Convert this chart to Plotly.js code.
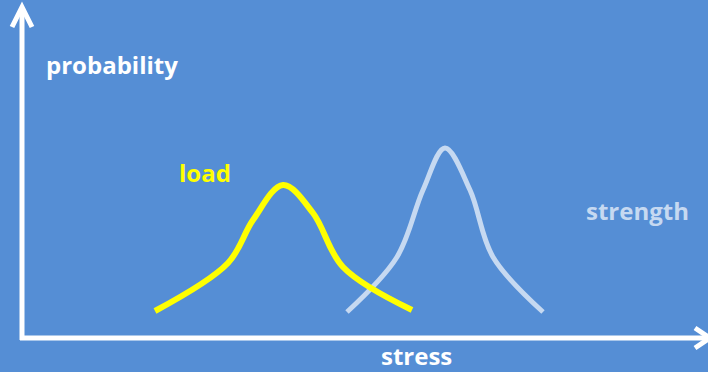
<!DOCTYPE html>
<html>
<head>
<meta charset="utf-8">
<script src="https://cdn.plot.ly/plotly-3.0.1.min.js"></script>
<style>html,body{margin:0;padding:0;background:#558ED5;}</style>
</head>
<body>
<div id="chart" style="width:708px;height:372px;"></div>
<script>
// stress (x) and probability (y) values
const loadStress = [133, 206, 231, 261, 291, 321, 390];
const loadProb   = [27, 75, 118, 153, 125, 71, 28];
const strengthStress = [325, 375, 401, 423, 448, 471, 521];
const strengthProb   = [26, 81, 148, 190, 148, 81, 26];
const labels = {y: 'probability', x: 'stress', load: 'load', strength: 'strength'};

const BG = '#558ED5';
const WHITE = '#FFFFFF';
const YELLOW = '#FFFF00';
const LIGHT = '#C6D9F1';
const FONT = '"Open Sans", sans-serif';

const traces = [
  {x: strengthStress, y: strengthProb, mode: 'lines', line: {color: LIGHT, width: 5, shape: 'spline', smoothing: 1}, hoverinfo: 'skip'},
  {x: loadStress, y: loadProb, mode: 'lines', line: {color: YELLOW, width: 6, shape: 'spline', smoothing: 1}, hoverinfo: 'skip'}
];

const layout = {
  width: 708, height: 372,
  margin: {l: 0, r: 0, t: 0, b: 0},
  paper_bgcolor: BG, plot_bgcolor: BG,
  showlegend: false,
  xaxis: {range: [-22, 686], visible: false, fixedrange: true},
  yaxis: {range: [-34, 338], visible: false, fixedrange: true},
  shapes: [
    {type: 'path', xref: 'x', yref: 'y', path: 'M0,-2 L0,330', line: {color: WHITE, width: 5}},
    {type: 'path', xref: 'x', yref: 'y', path: 'M-10,311 L0,331 L10,311', line: {color: WHITE, width: 5}},
    {type: 'path', xref: 'x', yref: 'y', path: 'M-2,0 L688,0', line: {color: WHITE, width: 5}},
    {type: 'path', xref: 'x', yref: 'y', path: 'M673,10 L688,0 L673,-10', line: {color: WHITE, width: 5}}
  ],
  annotations: [
    {xref: 'paper', yref: 'paper', x: 44/708, y: 1 - 64/372, xanchor: 'left', yanchor: 'middle', showarrow: false,
     text: '<b>' + labels.y + '</b>', font: {family: FONT, size: 24, color: WHITE}},
    {xref: 'paper', yref: 'paper', x: 416/708, y: 1 - 355/372, xanchor: 'center', yanchor: 'middle', showarrow: false,
     text: '<b>' + labels.x + '</b>', font: {family: FONT, size: 24, color: WHITE}},
    {xref: 'paper', yref: 'paper', x: 205/708, y: 1 - 172/372, xanchor: 'center', yanchor: 'middle', showarrow: false,
     text: '<b>' + labels.load + '</b>', font: {family: FONT, size: 24, color: YELLOW}},
    {xref: 'paper', yref: 'paper', x: 637/708, y: 1 - 210/372, xanchor: 'center', yanchor: 'middle', showarrow: false,
     text: '<b>' + labels.strength + '</b>', font: {family: FONT, size: 24, color: LIGHT}}
  ]
};

Plotly.newPlot('chart', traces, layout, {displayModeBar: false, staticPlot: true});
</script>
</body>
</html>
